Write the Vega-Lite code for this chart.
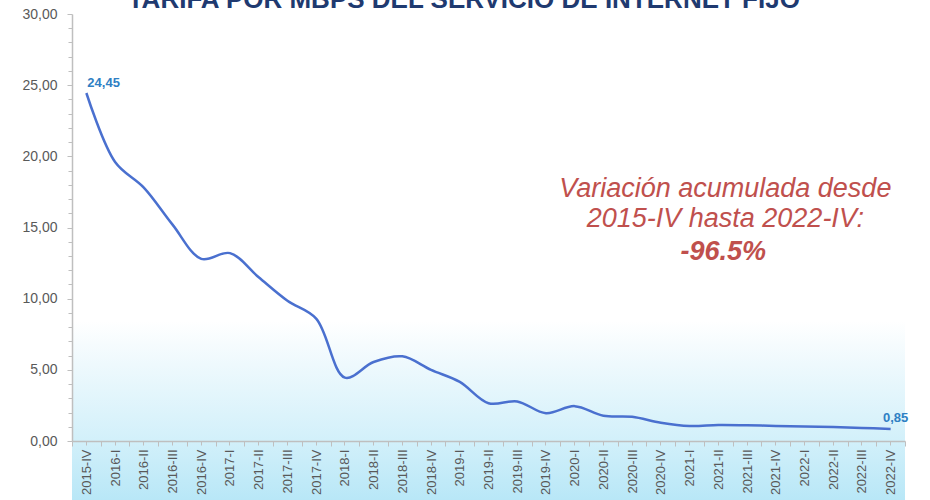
{
  "$schema": "https://vega.github.io/schema/vega-lite/v6.json",
  "width": 833,
  "height": 427,
  "autosize": {"type": "none"},
  "padding": {"left": 72, "top": 14, "right": 25, "bottom": 59},
  "background": "#ffffff",
  "data": {
    "values": [
      {"periodo": "2015-IV", "valor": 24.45},
      {"periodo": "2016-I", "valor": 19.6},
      {"periodo": "2016-II", "valor": 17.8},
      {"periodo": "2016-III", "valor": 15.2},
      {"periodo": "2016-IV", "valor": 12.8},
      {"periodo": "2017-I", "valor": 13.2},
      {"periodo": "2017-II", "valor": 11.5},
      {"periodo": "2017-III", "valor": 9.85},
      {"periodo": "2017-IV", "valor": 8.6},
      {"periodo": "2018-I", "valor": 4.45},
      {"periodo": "2018-II", "valor": 5.55},
      {"periodo": "2018-III", "valor": 5.95},
      {"periodo": "2018-IV", "valor": 5.0},
      {"periodo": "2019-I", "valor": 4.15},
      {"periodo": "2019-II", "valor": 2.65},
      {"periodo": "2019-III", "valor": 2.78},
      {"periodo": "2019-IV", "valor": 1.95},
      {"periodo": "2020-I", "valor": 2.45},
      {"periodo": "2020-II", "valor": 1.78},
      {"periodo": "2020-III", "valor": 1.7},
      {"periodo": "2020-IV", "valor": 1.28},
      {"periodo": "2021-I", "valor": 1.05},
      {"periodo": "2021-II", "valor": 1.12},
      {"periodo": "2021-III", "valor": 1.1},
      {"periodo": "2021-IV", "valor": 1.06},
      {"periodo": "2022-I", "valor": 1.02},
      {"periodo": "2022-II", "valor": 0.98},
      {"periodo": "2022-III", "valor": 0.92},
      {"periodo": "2022-IV", "valor": 0.85}
    ]
  },
  "layer": [
    {
      "data": {"values": [{"desde": "2015-IV", "hasta": "2022-IV", "arriba": 30, "abajo": -4.2}]},
      "mark": {"type": "rect", "clip": false, "fill": {"gradient": "linear", "x1": 0, "y1": 0, "x2": 0, "y2": 1, "stops": [{"offset": 0, "color": "#ffffff"}, {"offset": 0.63, "color": "#ffffff"}, {"offset": 0.72, "color": "#eef9fd"}, {"offset": 0.877, "color": "#d2f0fa"}, {"offset": 1, "color": "#b8e7f7"}]}},
      "encoding": {
        "x": {"field": "desde", "type": "ordinal", "bandPosition": 0, "axis": null},
        "x2": {"field": "hasta", "bandPosition": 1},
        "y": {"field": "arriba", "type": "quantitative", "axis": null},
        "y2": {"field": "abajo"}
      }
    },
    {
      "mark": {"type": "line", "interpolate": "catmull-rom", "color": "#4a70cf", "strokeWidth": 2.5},
      "encoding": {
        "x": {
          "field": "periodo", "type": "ordinal", "sort": null,
          "scale": {"type": "band", "paddingInner": 0, "paddingOuter": 0},
          "axis": {"title": null, "labelAngle": -90, "labelAlign": "right", "labelBaseline": "middle", "labelFontSize": 13, "labelFont": "Liberation Sans", "labelColor": "#595959", "labelPadding": 3, "tickBand": "extent", "tickSize": 5, "tickColor": "#bfbfbf", "domainColor": "#bfbfbf", "domainWidth": 1.5, "grid": false, "orient": "bottom", "zindex": 1}
        },
        "y": {
          "field": "valor", "type": "quantitative",
          "scale": {"domain": [0, 30], "nice": false},
          "axis": {"title": null, "values": [0, 5, 10, 15, 20, 25, 30], "format": ".2f", "labelFontSize": 14, "labelFont": "Liberation Sans", "labelColor": "#595959", "labelPadding": 10, "tickSize": 5, "tickColor": "#bfbfbf", "domainColor": "#bfbfbf", "domainWidth": 1.5, "grid": false, "orient": "left", "zindex": 1}
        }
      }
    },
    {
      "transform": [{"filter": "datum.periodo == '2015-IV'"}],
      "mark": {"type": "text", "align": "left", "baseline": "alphabetic", "dx": 1, "dy": -6, "fontSize": 13, "fontWeight": "bold", "font": "Liberation Sans", "color": "#2f80c4"},
      "encoding": {
        "x": {"field": "periodo", "type": "ordinal", "sort": null, "axis": {"title": null, "labels": false, "domain": false, "tickSize": 4, "tickColor": "#bfbfbf", "orient": "bottom", "grid": false, "zindex": 1}},
        "y": {"field": "valor", "type": "quantitative", "axis": {"title": null, "labels": false, "domain": false, "values": [1,2,3,4,6,7,8,9,11,12,13,14,16,17,18,19,21,22,23,24,26,27,28,29], "tickSize": 4, "tickColor": "#bfbfbf", "orient": "left", "grid": false, "zindex": 1}},
        "text": {"field": "valor", "type": "quantitative", "format": ".2f"}
      }
    },
    {
      "transform": [{"filter": "datum.periodo == '2022-IV'"}],
      "mark": {"type": "text", "align": "center", "baseline": "alphabetic", "dx": 5, "dy": -7, "fontSize": 13, "fontWeight": "bold", "font": "Liberation Sans", "color": "#2f80c4"},
      "encoding": {
        "x": {"field": "periodo", "type": "ordinal", "sort": null, "axis": null},
        "y": {"field": "valor", "type": "quantitative", "axis": null},
        "text": {"field": "valor", "type": "quantitative", "format": ".2f"}
      }
    },
    {
      "data": {"values": [{"periodo": "2019-I", "valor": 30.4, "texto": "TARIFA POR MBPS DEL SERVICIO DE INTERNET FIJO"}]},
      "mark": {"type": "text", "align": "center", "baseline": "alphabetic", "dx": 4, "clip": false, "fontSize": 26, "fontWeight": "bold", "font": "Liberation Sans", "color": "#1f3a70"},
      "encoding": {
        "x": {"field": "periodo", "type": "ordinal", "axis": null},
        "y": {"field": "valor", "type": "quantitative", "axis": null},
        "text": {"field": "texto"}
      }
    },
    {
      "data": {"values": [{"periodo": "2021-II", "valor": 17.15}]},
      "mark": {"type": "text", "align": "center", "baseline": "alphabetic", "dx": 7, "fontSize": 27, "fontStyle": "italic", "font": "Liberation Sans", "color": "#c0504d", "lineHeight": 30},
      "encoding": {
        "x": {"field": "periodo", "type": "ordinal", "axis": null},
        "y": {"field": "valor", "type": "quantitative", "axis": null},
        "text": {"value": ["Variación acumulada desde", "2015-IV hasta 2022-IV:"]}
      }
    },
    {
      "data": {"values": [{"periodo": "2021-II", "valor": 12.72}]},
      "mark": {"type": "text", "align": "center", "baseline": "alphabetic", "dx": 5, "fontSize": 27, "fontStyle": "italic", "fontWeight": "bold", "font": "Liberation Sans", "color": "#c0504d"},
      "encoding": {
        "x": {"field": "periodo", "type": "ordinal", "axis": null},
        "y": {"field": "valor", "type": "quantitative", "axis": null},
        "text": {"value": "-96.5%"}
      }
    }
  ],
  "resolve": {"axis": {"x": "independent", "y": "independent"}},
  "config": {
    "view": {"stroke": null},
    "locale": {"number": {"decimal": ",", "thousands": ".", "grouping": [3], "currency": ["", " €"]}}
  }
}
